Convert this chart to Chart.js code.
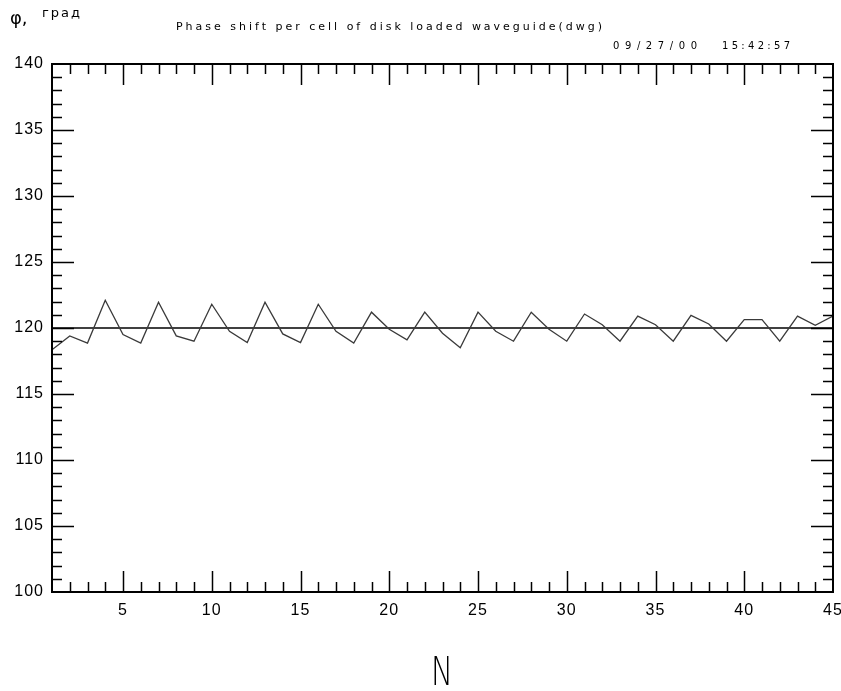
<!DOCTYPE html>
<html><head><meta charset="utf-8">
<script src="https://cdn.jsdelivr.net/npm/chart.js@4/dist/chart.umd.min.js"></script>
<style>html,body{margin:0;padding:0;background:#fff;}</style>
</head><body>
<canvas id="c" width="841" height="691"></canvas>
<script>
// ---- data ----
const cells = [1,2,3,4,5,6,7,8,9,10,11,12,13,14,15,16,17,18,19,20,21,22,23,24,25,26,27,28,29,30,31,32,33,34,35,36,37,38,39,40,41,42,43,44,45];
const phase = [118.35,119.4,118.86,122.1,119.5,118.86,121.95,119.4,119.0,121.8,119.75,118.9,121.95,119.55,118.9,
               121.8,119.75,118.86,121.2,119.9,119.1,121.2,119.6,118.5,121.2,119.75,119.0,121.2,119.9,119.0,
               121.06,120.25,119.0,120.9,120.25,119.0,120.96,120.3,119.0,120.63,120.63,119.0,120.9,120.2,120.9];
const refCells = [1, 45];
const refLevel = [120, 120];
const xTickLabels = [5,10,15,20,25,30,35,40,45];
const yTickLabels = [100,105,110,115,120,125,130,135,140];
const titleText = 'Phase shift per cell of disk loaded waveguide(dwg)';
const dateText = '09/27/00';
const timeText = '15:42:57';
const yAxisSymbol = 'φ,';
const yAxisUnit = 'град';
const xAxisTitle = 'N';

function spacedText(ctx, text, x, y, width) {
  const ws = [...text].map(ch => ctx.measureText(ch).width);
  const total = ws.reduce((a, b) => a + b, 0);
  const extra = text.length > 1 ? (width - total) / (text.length - 1) : 0;
  let cx = x;
  [...text].forEach((ch, i) => { ctx.fillText(ch, cx, y); cx += ws[i] + extra; });
}

const framePlugin = {
  id: 'frame',
  beforeInit(chart) { chart.ctx.letterSpacing = '1px'; },
  beforeDraw(chart) { chart.ctx.letterSpacing = '1px'; },
  afterDatasetsDraw(chart) {
    const ctx = chart.ctx, a = chart.chartArea;
    const xs = chart.scales.x, ys = chart.scales.y;
    ctx.save();
    ctx.strokeStyle = '#000';
    ctx.lineWidth = 1.5;
    ctx.beginPath();
    for (let v = 2; v < 45; v++) {
      const px = Math.round(xs.getPixelForValue(v)) + 0.5;
      const len = v % 5 === 0 ? 21 : 10;
      ctx.moveTo(px, a.bottom); ctx.lineTo(px, a.bottom - len);
      ctx.moveTo(px, a.top); ctx.lineTo(px, a.top + len);
    }
    for (let v = 101; v < 140; v++) {
      const py = Math.round(ys.getPixelForValue(v)) + 0.5;
      const len = v % 5 === 0 ? 22 : 10;
      ctx.moveTo(a.left, py); ctx.lineTo(a.left + len, py);
      ctx.moveTo(a.right, py); ctx.lineTo(a.right - len, py);
    }
    ctx.stroke();
    ctx.lineWidth = 2;
    ctx.strokeRect(a.left, a.top, a.right - a.left, a.bottom - a.top);
    ctx.restore();
  },
  afterDraw(chart) {
    const ctx = chart.ctx;
    ctx.save();
    ctx.letterSpacing = '0px';
    ctx.fillStyle = '#000';
    ctx.textBaseline = 'alphabetic';
    ctx.textAlign = 'left';
    ctx.font = '18px "DejaVu Sans"';
    ctx.fillText(yAxisSymbol, 10, 24);
    ctx.font = '13px "DejaVu Sans"';
    spacedText(ctx, yAxisUnit, 42, 17, 38);
    ctx.font = '11px "DejaVu Sans"';
    spacedText(ctx, titleText, 176, 30, 426);
    ctx.font = '10px "DejaVu Sans"';
    spacedText(ctx, dateText, 613, 49, 84);
    spacedText(ctx, timeText, 722, 49, 68);
    ctx.save();
    ctx.translate(442, 685);
    ctx.scale(0.75, 1);
    ctx.font = '300 39px "DejaVu Sans"';
    ctx.textAlign = 'center';
    ctx.fillText(xAxisTitle, 0, 0);
    ctx.restore();
    ctx.restore();
  }
};

new Chart(document.getElementById('c'), {
  type: 'line',
  data: {
    datasets: [
      { data: cells.map((n, i) => ({ x: n, y: phase[i] })), borderColor: '#3a3a3a', borderWidth: 1.3, pointRadius: 0, tension: 0 },
      { data: refCells.map((n, i) => ({ x: n, y: refLevel[i] })), borderColor: '#000', borderWidth: 1.6, pointRadius: 0, tension: 0 }
    ]
  },
  options: {
    responsive: false,
    devicePixelRatio: 1,
    animation: false,
    layout: { padding: { top: 64, right: 0, left: 0, bottom: 0 } },
    plugins: { legend: { display: false }, title: { display: false }, tooltip: { enabled: false } },
    scales: {
      x: {
        type: 'linear', min: 1, max: 45,
        grid: { display: false, drawTicks: false },
        border: { display: false },
        afterBuildTicks: s => { s.ticks = xTickLabels.map(v => ({ value: v })); },
        afterFit: s => { s.height = 99; s.paddingRight = 8; s.paddingLeft = 0; },
        ticks: { padding: 9, color: '#000', font: { family: '"Liberation Sans"', size: 16 } }
      },
      y: {
        type: 'linear', min: 100, max: 140,
        grid: { display: false, drawTicks: false },
        border: { display: false },
        afterBuildTicks: s => { s.ticks = yTickLabels.map(v => ({ value: v })); },
        afterFit: s => { s.width = 52; s.paddingTop = 0; s.paddingBottom = 0; },
        ticks: { padding: 8, color: '#000', font: { family: '"Liberation Sans"', size: 16 } }
      }
    }
  },
  plugins: [framePlugin]
});
</script>
</body></html>
